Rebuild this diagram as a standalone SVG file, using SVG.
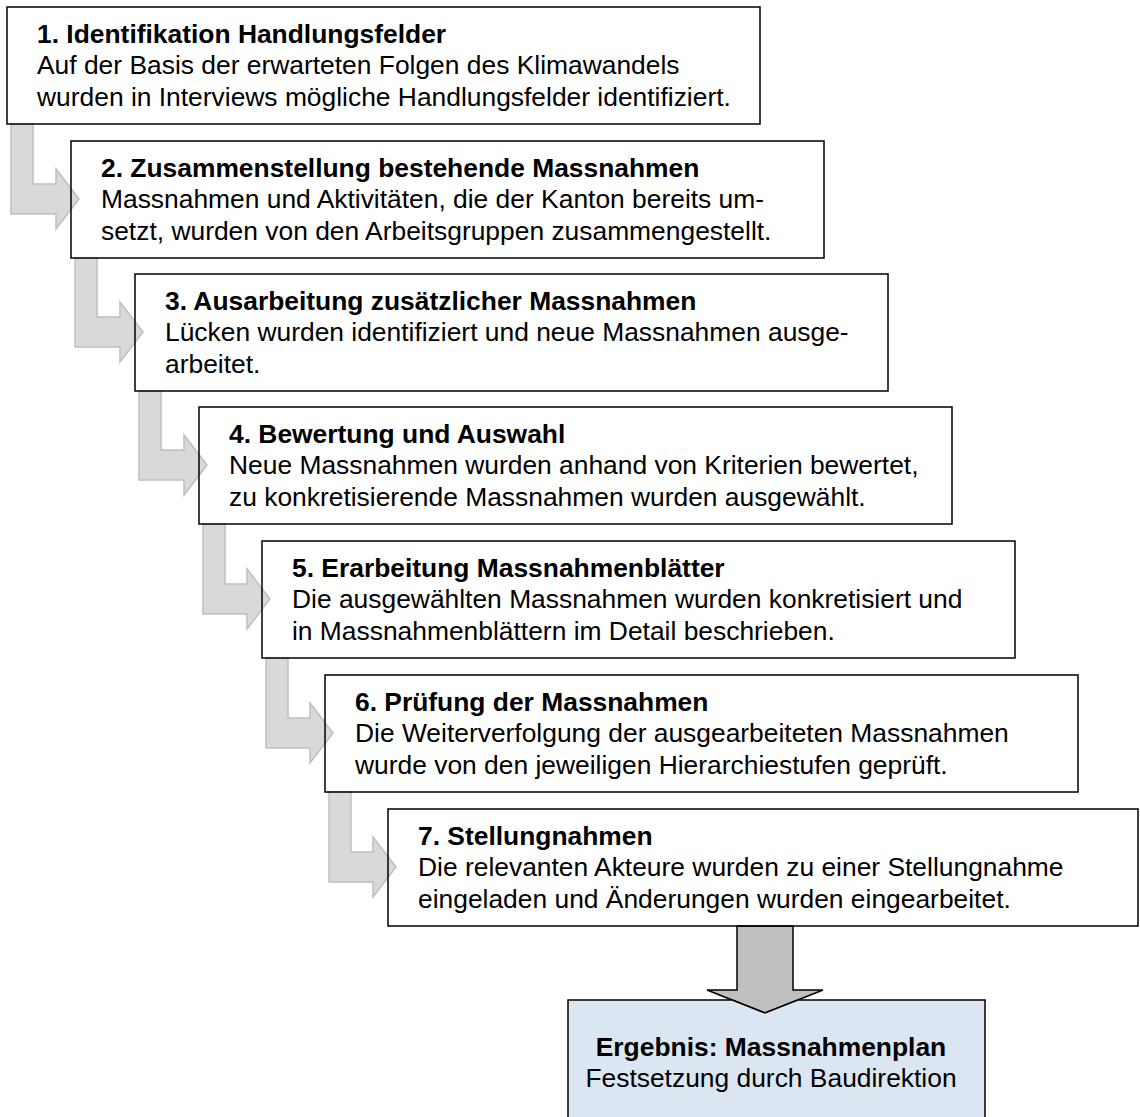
<svg xmlns="http://www.w3.org/2000/svg" width="1140" height="1117" viewBox="0 0 1140 1117">
<style>
  .box { fill: none; stroke: #000; stroke-width: 1.5; }
  .res { fill: #dce6f2; stroke: #000; stroke-width: 1.5; }
  .step { fill: #d9d9d9; stroke: #bfbfbf; stroke-width: 1.5; stroke-linejoin: miter; }
  .big { fill: #bfbfbf; stroke: #000; stroke-width: 1.5; }
  text { font-family: "Liberation Sans", Arial, sans-serif; font-size: 26.4px; fill: #000; }
  .t { font-weight: bold; }
  .c { text-anchor: middle; }
</style>
<rect x="0" y="0" width="1140" height="1117" fill="#fff"/>
<g id="connectors">
  <path class="step" d="M11,124 V214 H56 V229 L79,199 L56,169 V184 H33 V124 Z"/>
  <path class="step" d="M75,258 V347 H120 V362 L143,332 L120,302 V317 H97 V258 Z"/>
  <path class="step" d="M139,391 V480 H184 V495 L207,465 L184,435 V450 H161 V391 Z"/>
  <path class="step" d="M203,524 V614 H247 V629 L270,599 L247,569 V584 H225 V524 Z"/>
  <path class="step" d="M266,658 V748 H310 V763 L333,733 L310,703 V718 H288 V658 Z"/>
  <path class="step" d="M329,792 V882 H373 V897 L396,867 L373,837 V852 H351 V792 Z"/>
  <path class="big" d="M737,926 V990 H707 L765,1013 L823,990 H793 V926 Z"/>
</g>
<g id="step1">
  <rect class="box" x="7" y="7" width="753" height="117"/>
  <text class="t" x="37" y="43">1. Identifikation Handlungsfelder</text>
  <text x="37" y="74">Auf der Basis der erwarteten Folgen des Klimawandels</text>
  <text x="37" y="106">wurden in Interviews mögliche Handlungsfelder identifiziert.</text>
</g>
<g id="step2">
  <rect class="box" x="71" y="141" width="753" height="117"/>
  <text class="t" x="101" y="177">2. Zusammenstellung bestehende Massnahmen</text>
  <text x="101" y="208">Massnahmen und Aktivitäten, die der Kanton bereits um-</text>
  <text x="101" y="240">setzt, wurden von den Arbeitsgruppen zusammengestellt.</text>
</g>
<g id="step3">
  <rect class="box" x="135" y="274" width="753" height="117"/>
  <text class="t" x="165" y="310">3. Ausarbeitung zusätzlicher Massnahmen</text>
  <text x="165" y="341">Lücken wurden identifiziert und neue Massnahmen ausge-</text>
  <text x="165" y="373">arbeitet.</text>
</g>
<g id="step4">
  <rect class="box" x="199" y="407" width="753" height="117"/>
  <text class="t" x="229" y="443">4. Bewertung und Auswahl</text>
  <text x="229" y="474">Neue Massnahmen wurden anhand von Kriterien bewertet,</text>
  <text x="229" y="506">zu konkretisierende Massnahmen wurden ausgewählt.</text>
</g>
<g id="step5">
  <rect class="box" x="262" y="541" width="753" height="117"/>
  <text class="t" x="292" y="577">5. Erarbeitung Massnahmenblätter</text>
  <text x="292" y="608">Die ausgewählten Massnahmen wurden konkretisiert und</text>
  <text x="292" y="640">in Massnahmenblättern im Detail beschrieben.</text>
</g>
<g id="step6">
  <rect class="box" x="325" y="675" width="753" height="117"/>
  <text class="t" x="355" y="711">6. Prüfung der Massnahmen</text>
  <text x="355" y="742">Die Weiterverfolgung der ausgearbeiteten Massnahmen</text>
  <text x="355" y="774">wurde von den jeweiligen Hierarchiestufen geprüft.</text>
</g>
<g id="step7">
  <rect class="box" x="388" y="809" width="750" height="117"/>
  <text class="t" x="418" y="845">7. Stellungnahmen</text>
  <text x="418" y="876">Die relevanten Akteure wurden zu einer Stellungnahme</text>
  <text x="418" y="908">eingeladen und Änderungen wurden eingearbeitet.</text>
</g>
<g id="result">
  <path class="res" d="M568,1000 H732.2 L765,1013 L797.8,1000 H985 V1125 H568 Z"/>
  <text class="t c" x="771" y="1056">Ergebnis: Massnahmenplan</text>
  <text class="c" x="771" y="1087">Festsetzung durch Baudirektion</text>
</g>
</svg>
